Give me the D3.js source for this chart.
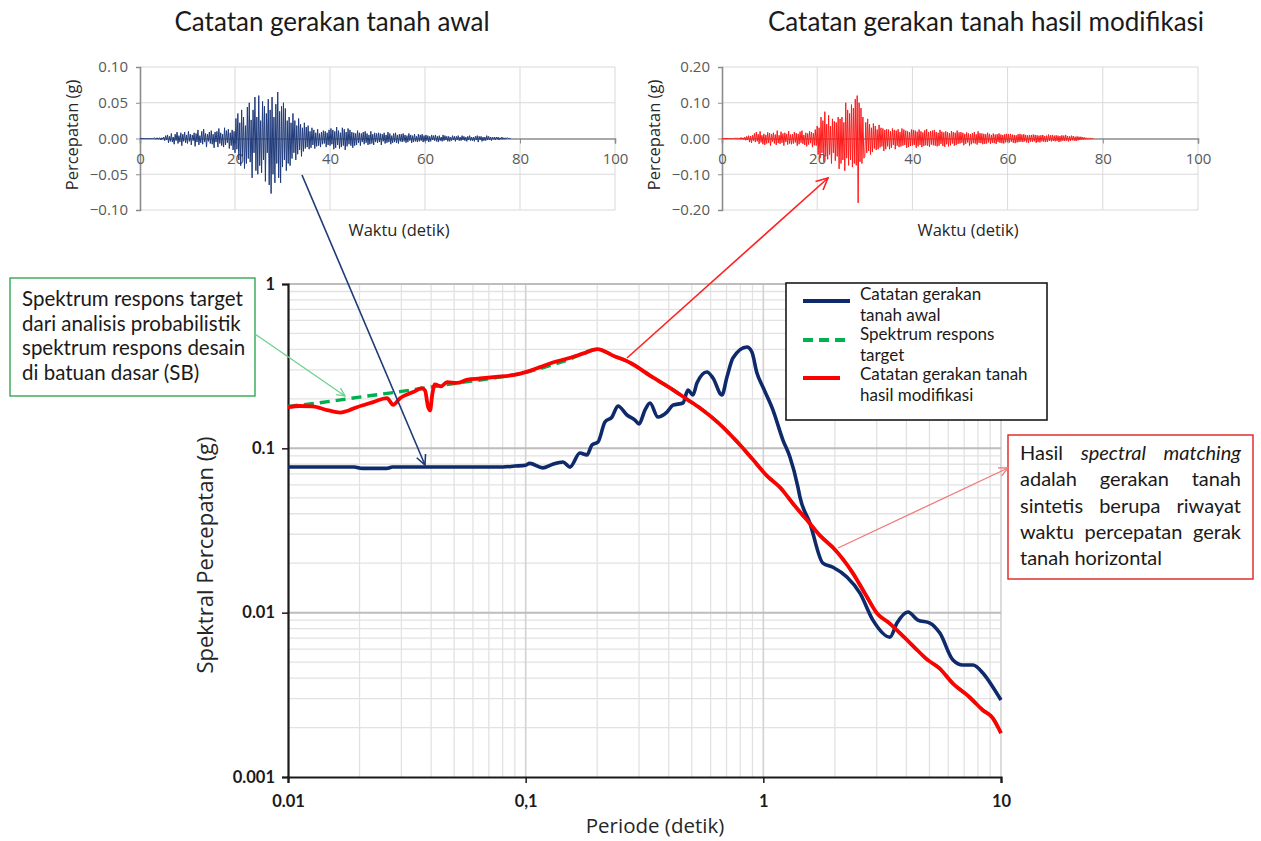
<!DOCTYPE html>
<html><head><meta charset="utf-8">
<script src="https://cdn.jsdelivr.net/npm/d3@7"></script>
<style>body{margin:0;background:#fff} svg{display:block}</style>
</head><body>
<svg id="c" width="1261" height="841"></svg>
<script>
// ---------------- DATA ----------------
// Time histories (acceleration in thousandths of g), sampled every dt seconds
const dt = 0.2;
const timeTicks = [0, 20, 40, 60, 80, 100];
const accTicksOriginal = [-0.10, -0.05, 0.00, 0.05, 0.10];
const accTicksModified = [-0.20, -0.10, 0.00, 0.10, 0.20];
const accOriginalMilliG = [
  0,0,0,0,0,0,0,0,0,0,0,0,0,0,0,1,0,-1,1,-1,0,1,-2,1,-1,
  2,-3,4,-2,5,-6,3,-4,7,-5,2,-8,6,-3,9,-7,4,-5,8,-10,6,-4,9,-6,5,
  -7,10,-4,6,-9,5,-3,8,-11,7,-5,12,-9,4,-6,10,-8,13,-5,7,-12,6,-4,9,-7,
  11,-8,6,-13,9,-5,10,-12,14,-7,8,-10,6,-12,15,-9,11,-6,13,-14,8,-10,12,-16,10,
  -20,28,-15,35,-30,22,-38,40,-25,30,-42,18,-35,44,-28,50,-33,26,-55,40,-20,58,-45,30,-50,
  60,-38,25,-48,52,-30,45,-60,35,-20,55,-65,40,-77,58,-50,30,-62,48,-35,65,-55,38,-62,45,
  -40,50,-30,42,-45,25,-35,30,-38,22,-28,35,-20,25,-30,18,-22,28,-16,20,-25,15,-18,22,-14,
  16,-12,18,-15,10,-13,15,-9,12,-14,8,-11,13,-10,7,-12,9,-8,11,-7,10,-12,8,-9,12,
  -10,14,-8,12,-15,10,-13,16,-9,11,-14,8,-12,15,-10,13,-16,9,-11,14,-8,12,-10,9,-13,
  8,-10,7,-9,11,-6,8,-10,7,-5,9,-8,10,-6,7,-9,5,-8,10,-7,6,-9,8,-5,7,
  -6,8,-5,7,-9,6,-4,8,-7,5,-6,9,-5,7,-8,4,-6,7,-5,8,-6,5,-7,6,-4,
  6,-5,7,-4,5,-6,4,-5,7,-3,5,-6,4,-5,6,-4,3,-5,6,-4,5,-3,6,-5,4,
  -4,5,-3,4,-5,3,-4,5,-2,4,-3,5,-4,3,-5,4,-3,2,-4,5,-3,4,-2,3,-4,
  3,-4,2,-3,4,-2,3,-4,3,-2,4,-3,2,-3,4,-2,3,-3,2,-4,3,-2,4,-3,2,
  -3,2,-4,3,-2,4,-5,3,-2,3,-4,2,-3,2,-3,4,-2,3,-2,2,-3,2,-1,2,-2,
  2,-1,2,-2,1,-1,2,-1,1,-1,1,0,1,0,0,0
];
const accModifiedMilliG = [
  0,0,0,0,0,0,0,0,0,0,0,0,0,0,1,-1,2,-1,1,-2,3,-2,2,-3,4,
  -5,6,-4,8,-10,7,-12,9,-6,14,-10,18,-8,12,-15,20,-11,9,-16,13,-18,10,-14,17,-12,
  15,-20,12,-9,16,-14,11,-18,22,-13,9,-15,19,-12,14,-20,16,-10,13,-17,21,-14,11,-16,12,
  -14,18,-11,15,-20,13,-16,19,-12,22,-15,10,-18,16,-22,14,-17,20,-13,18,-24,15,-19,25,-20,
  35,-45,30,-55,60,-40,50,-65,75,-50,40,-58,65,-45,35,-70,55,-40,48,-62,45,-50,60,-85,55,
  -70,60,-60,45,-90,100,-55,80,-75,70,-60,95,-80,85,-70,110,-75,120,-180,100,-65,85,-70,60,-55,
  -50,45,-40,55,-35,40,-45,30,-38,42,-28,35,-32,25,-30,38,-25,30,-22,28,-35,24,-30,26,-22,
  25,-30,20,-26,28,-18,24,-30,22,-20,26,-24,18,-22,28,-20,25,-18,22,-26,20,-24,18,-21,25,
  -20,24,-18,22,-26,19,-22,25,-18,20,-24,17,-21,23,-19,26,-20,18,-23,21,-17,22,-19,24,-20,
  18,-22,16,-20,24,-15,19,-21,17,-23,20,-16,18,-22,15,-19,21,-14,18,-20,16,-18,22,-15,17,
  -14,18,-12,16,-19,13,-15,17,-11,14,-20,12,-16,15,-13,18,-14,12,-17,20,-12,15,-13,14,-16,
  13,-15,12,-14,16,-11,13,-15,10,-12,14,-13,11,-15,12,-10,14,-12,11,-13,10,-14,12,-11,13,
  -10,12,-11,13,-9,11,-12,10,-13,9,-11,12,-10,13,-9,11,-10,12,-8,10,-11,9,-12,10,-9,
  10,-9,11,-8,10,-12,9,-10,8,-11,9,-8,10,-9,7,-10,8,-9,11,-7,9,-8,10,-7,8,
  -8,9,-7,8,-10,7,-8,9,-6,8,-7,10,-6,7,-8,6,-7,8,-5,7,-6,5,-7,6,-5,
  5,-4,5,-3,4,-3,3,-2,2,-2,1,-1,1,0,0,0
];

// Response spectra (period in s, spectral acceleration in g)
const periodTicks = [0.01, 0.1, 1, 10];
const saTicks = [0.001, 0.01, 0.1, 1];
const periodOriginal = [0.01,0.015,0.019,0.0205,0.026,0.0275,0.05,0.08,0.09,0.1,0.104,0.118,0.13,0.1435,0.1536,0.1692,0.1811,0.19,0.2015,0.2156,0.2307,0.2445,0.2668,0.2883,0.2998,0.3177,0.3334,0.3603,0.393,0.4166,0.459,0.4817,0.5055,0.5256,0.579,0.6138,0.6695,0.703,0.745,0.853,0.895,0.94,0.996,1.098,1.209,1.294,1.398,1.426,1.57,1.781,1.963,2.247,2.55,2.891,3.41,3.65,4.06,4.47,5.02,5.53,6.28,6.91,7.62,8.39,9.25,10];
const saOriginal = [0.077,0.077,0.077,0.0755,0.0755,0.077,0.077,0.077,0.078,0.079,0.081,0.076,0.080,0.0825,0.0769,0.0936,0.0911,0.1047,0.1092,0.1446,0.155,0.181,0.1595,0.1487,0.1406,0.171,0.1887,0.155,0.166,0.183,0.1887,0.2264,0.211,0.2496,0.2913,0.268,0.211,0.2716,0.3545,0.4135,0.3856,0.2873,0.236,0.171,0.1123,0.0885,0.0581,0.0505,0.0351,0.020,0.0189,0.01647,0.01316,0.00901,0.0071,0.00865,0.0101,0.00901,0.00865,0.00751,0.00515,0.0048,0.0048,0.00429,0.00352,0.00294];
const periodTarget = [0.01,0.015,0.02,0.03,0.04,0.05,0.07,0.1,0.15,0.2,0.235,0.275,0.343,0.4,0.477,0.541,0.65,0.774,0.9,1.036,1.174,1.35,1.526,1.75,1.963,2.38,2.7,3.01,3.4,3.76,4.3,4.88,5.5,6.28,7.3,8.39,9.2,10];
const saTarget = [0.180,0.193,0.205,0.222,0.236,0.248,0.265,0.290,0.345,0.400,0.365,0.332,0.270,0.236,0.199,0.176,0.142,0.110,0.086,0.068,0.058,0.045,0.0366,0.029,0.0249,0.0174,0.0128,0.0099,0.0086,0.0075,0.0062,0.0052,0.0046,0.0037,0.0031,0.00255,0.0023,0.00185];
const periodModified = [0.01,0.0112,0.0127,0.0146,0.0166,0.018,0.0195,0.0228,0.0261,0.0277,0.0296,0.0336,0.0365,0.0377,0.0388,0.0396,0.0405,0.0415,0.044,0.0467,0.0514,0.057,0.0642,0.075,0.0884,0.095,0.104,0.115,0.13,0.15,0.175,0.2,0.235,0.275,0.343,0.4,0.477,0.541,0.65,0.774,0.9,1.036,1.174,1.35,1.526,1.75,1.963,2.38,2.7,3.01,3.4,3.76,4.3,4.88,5.5,6.28,7.3,8.39,9.2,10];
const saModified = [0.178,0.181,0.180,0.171,0.165,0.170,0.178,0.191,0.202,0.184,0.202,0.220,0.232,0.225,0.180,0.170,0.215,0.245,0.238,0.253,0.250,0.262,0.266,0.272,0.279,0.285,0.296,0.312,0.333,0.352,0.378,0.402,0.365,0.332,0.270,0.236,0.199,0.176,0.142,0.110,0.086,0.068,0.058,0.045,0.0366,0.029,0.0249,0.0174,0.0128,0.0099,0.0086,0.0075,0.0062,0.0052,0.0046,0.0037,0.0031,0.00255,0.0023,0.00185];

const legendLabels = [["Catatan gerakan","tanah awal"],["Spektrum respons","target"],["Catatan gerakan tanah","hasil modifikasi"]];
const greenNote = ["Spektrum respons target","dari analisis probabilistik","spektrum respons desain","di batuan dasar (SB)"];
const redNote = [
  [{t:"Hasil"},{t:"spectral",i:1},{t:"matching",i:1}],
  [{t:"adalah"},{t:"gerakan"},{t:"tanah"}],
  [{t:"sintetis"},{t:"berupa"},{t:"riwayat"}],
  [{t:"waktu"},{t:"percepatan"},{t:"gerak"}],
  [{t:"tanah"},{t:"horizontal"}]
];

// ---------------- DRAW ----------------
const svg = d3.select('#c');
const FUI = "'Open Sans','Noto Sans',sans-serif";
const FC = "Lato,'Open Sans',sans-serif";
const NAVY = '#0f2a6b', RED = '#ff0000', GREEN = '#00b050';

function arrow(x1,y1,x2,y2,color,w,head){
  svg.append('line').attr('x1',x1).attr('y1',y1).attr('x2',x2).attr('y2',y2)
    .attr('stroke',color).attr('stroke-width',w);
  const a = Math.atan2(y2-y1,x2-x1), s = 0.45;
  const p = [[x2-head*Math.cos(a-s), y2-head*Math.sin(a-s)],[x2,y2],[x2-head*Math.cos(a+s), y2-head*Math.sin(a+s)]];
  svg.append('polyline').attr('points',p.map(d=>d.join(',')).join(' '))
    .attr('fill','none').attr('stroke',color).attr('stroke-width',w);
}

// ---- top time-history charts
function timeChart(c){
  const x = d3.scaleLinear().domain([0,100]).range([c.x0,c.x1]);
  const ymax = d3.max(c.yTicks);
  const y = d3.scaleLinear().domain([-ymax,ymax]).range([210,67]);
  const g = svg.append('g');
  g.selectAll(null).data(timeTicks.slice(1)).join('line')
    .attr('x1',d=>x(d)).attr('x2',d=>x(d)).attr('y1',y(-ymax)).attr('y2',y(ymax))
    .attr('stroke','#d9d9d9').attr('stroke-width',1);
  g.selectAll(null).data(c.yTicks.filter(d=>d!==0)).join('line')
    .attr('x1',x(0)).attr('x2',x(100)).attr('y1',d=>y(d)).attr('y2',d=>y(d))
    .attr('stroke','#d9d9d9').attr('stroke-width',1);
  const ya = g.append('g').attr('transform',`translate(${x(0)},0)`)
    .call(d3.axisLeft(y).tickValues(c.yTicks).tickSize(4).tickPadding(8).tickFormat(d3.format('.2f')));
  const xa = g.append('g').attr('transform',`translate(0,${y(0)})`)
    .call(d3.axisBottom(x).tickValues(timeTicks).tickSize(5).tickPadding(10).tickFormat(d3.format('d')));
  [ya,xa].forEach(a=>{
    a.select('.domain').attr('stroke','#8c8c8c').attr('stroke-width',1.6);
    a.selectAll('.tick line').attr('stroke','#8c8c8c');
    a.selectAll('.tick text').attr('fill','#595959').attr('font-family',FUI).attr('font-size',15);
  });
  const data = c.acc.map((v,i)=>[i*dt, v/1000]);
  g.append('path').datum(data)
    .attr('d',d3.line().x(d=>x(d[0])).y(d=>y(d[1])))
    .attr('fill','none').attr('stroke',c.color).attr('stroke-width',1);
  g.append('text').attr('transform',`translate(${c.x0-62},135) rotate(-90)`)
    .attr('text-anchor','middle').attr('font-family',FUI).attr('font-size',16.5).attr('fill','#262626')
    .text('Percepatan (g)');
  g.append('text').attr('x',c.xlab).attr('y',236).attr('text-anchor','middle')
    .attr('font-family',FUI).attr('font-size',16.5).attr('fill','#262626').text('Waktu (detik)');
  svg.append('text').attr('x',c.tx).attr('y',31).attr('text-anchor','middle')
    .attr('font-family',FC).attr('font-size',26).attr('fill','#1a1a1a').text(c.title);
}
timeChart({x0:140,x1:615,yTicks:accTicksOriginal,acc:accOriginalMilliG,color:'#1f3a7a',xlab:399,tx:332,title:'Catatan gerakan tanah awal'});
timeChart({x0:722,x1:1198,yTicks:accTicksModified,acc:accModifiedMilliG,color:'#ff1a1a',xlab:968,tx:986,title:'Catatan gerakan tanah hasil modifikasi'});

// ---- main spectrum chart
const X = d3.scaleLog().domain([0.01,10]).range([288,1001]);
const Y = d3.scaleLog().domain([0.001,1]).range([777,284]);
const mg = svg.append('g');
const minorX = [], minorY = [];
[0.01,0.1,1].forEach(d=>{ for(let k=2;k<=9;k++) minorX.push(k*d); });
[0.001,0.01,0.1].forEach(d=>{ for(let k=2;k<=9;k++) minorY.push(k*d); });
mg.selectAll(null).data(minorX).join('line')
  .attr('x1',d=>X(d)).attr('x2',d=>X(d)).attr('y1',284).attr('y2',777)
  .attr('stroke','#e2e2e2').attr('stroke-width',1.3);
mg.selectAll(null).data(minorY).join('line')
  .attr('x1',288).attr('x2',1001).attr('y1',d=>Y(d)).attr('y2',d=>Y(d))
  .attr('stroke','#e2e2e2').attr('stroke-width',1.3);
mg.selectAll(null).data(periodTicks.slice(1)).join('line')
  .attr('x1',d=>X(d)).attr('x2',d=>X(d)).attr('y1',284).attr('y2',777)
  .attr('stroke','#d2d2d2').attr('stroke-width',1.6);
mg.selectAll(null).data(saTicks.slice(1)).join('line')
  .attr('x1',288).attr('x2',1001).attr('y1',d=>Y(d)).attr('y2',d=>Y(d))
  .attr('stroke','#bdbdbd').attr('stroke-width',2);

const fmt = d=> String(d);
const yAx = mg.append('g').attr('transform','translate(288,0)')
  .call(d3.axisLeft(Y).tickValues(saTicks).tickSize(6).tickPadding(7).tickFormat(fmt));
const xAx = mg.append('g').attr('transform','translate(0,777)')
  .call(d3.axisBottom(X).tickValues(periodTicks).tickSize(6).tickPadding(12).tickFormat(fmt));
[yAx,xAx].forEach(a=>{
  a.select('.domain').attr('stroke','#1a1a1a').attr('stroke-width',2.2);
  a.selectAll('.tick line').attr('stroke','#1a1a1a').attr('stroke-width',1.5);
  a.selectAll('.tick text').attr('fill','#1a1a1a').attr('font-family',FC).attr('font-weight','bold').attr('font-size',16.5);
});
xAx.selectAll('.tick text').filter(d=>d===0.1).text('0,1');

const line = d3.line().x(d=>X(d[0])).y(d=>Y(d[1])).curve(d3.curveMonotoneX);
mg.append('path').datum(d3.zip(periodTarget,saTarget)).attr('d',line)
  .attr('fill','none').attr('stroke',GREEN).attr('stroke-width',3.4).attr('stroke-dasharray','10,6');
mg.append('path').datum(d3.zip(periodOriginal,saOriginal)).attr('d',line)
  .attr('fill','none').attr('stroke',NAVY).attr('stroke-width',3.6).attr('stroke-linejoin','round');
mg.append('path').datum(d3.zip(periodModified,saModified)).attr('d',line)
  .attr('fill','none').attr('stroke',RED).attr('stroke-width',3.8).attr('stroke-linejoin','round');

svg.append('text').attr('transform','translate(213,555) rotate(-90)').attr('text-anchor','middle')
  .attr('font-family',FUI).attr('font-size',22).attr('fill','#262626').text('Spektral Percepatan (g)');
svg.append('text').attr('x',655).attr('y',833).attr('text-anchor','middle')
  .attr('font-family',FUI).attr('font-size',20.5).attr('fill','#262626').text('Periode (detik)');

// ---- legend
const lg = svg.append('g');
lg.append('rect').attr('x',786).attr('y',283).attr('width',261).attr('height',137)
  .attr('fill','#fff').attr('stroke','#1a1a1a').attr('stroke-width',1.6);
const legendStyles = [{c:NAVY,x2:850,da:null,y:301},{c:GREEN,x2:850,da:'10,6',y:340},{c:RED,x2:840,da:null,y:378}];
legendStyles.forEach((s,i)=>{
  lg.append('line').attr('x1',803).attr('x2',s.x2).attr('y1',s.y).attr('y2',s.y)
    .attr('stroke',s.c).attr('stroke-width',4).attr('stroke-dasharray',s.da);
  legendLabels[i].forEach((t,j)=>{
    lg.append('text').attr('x',860).attr('y',300+i*40+j*21).attr('font-family',FC)
      .attr('font-size',17).attr('fill','#1a1a1a').text(t);
  });
});

// ---- annotations
svg.append('rect').attr('x',10).attr('y',278).attr('width',245).attr('height',118)
  .attr('fill','#fff').attr('stroke','#33a852').attr('stroke-width',1.4);
greenNote.forEach((t,i)=>svg.append('text').attr('x',22).attr('y',306+i*24.5)
  .attr('font-family',FC).attr('font-size',20.5).attr('fill','#1a1a1a').text(t));
arrow(255,334,345,396,'#6fd08f',1.3,9);

svg.append('rect').attr('x',1008).attr('y',435).attr('width',245).attr('height',144)
  .attr('fill','#fff').attr('stroke','#e02020').attr('stroke-width',1.4);
const ng = svg.append('g').attr('font-family',FC).attr('font-size',20).attr('fill','#1a1a1a');
redNote.forEach((words,li)=>{
  const y = 460 + li*26.3;
  const nodes = words.map(w=>ng.append('text').attr('y',y).attr('font-style',w.i?'italic':'normal').text(w.t));
  const widths = nodes.map(n=>n.node().getComputedTextLength());
  const last = li===redNote.length-1;
  const gap = last ? 5 : (1241-1020-d3.sum(widths))/(words.length-1);
  let cx = 1020;
  nodes.forEach((n,i)=>{ n.attr('x',cx); cx += widths[i]+gap; });
});
arrow(838,548,1008,468,'#f07a7a',1.3,10);

// ---- linking arrows
arrow(302,175,425,465,'#203a78',1.6,11);
arrow(627,358,828,178,'#ff2020',1.6,13);
</script>
</body></html>
